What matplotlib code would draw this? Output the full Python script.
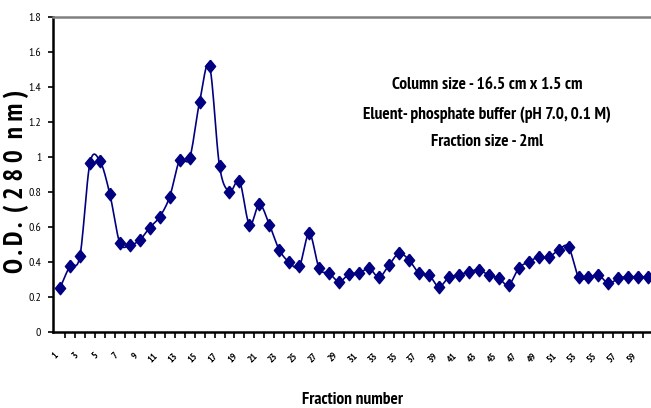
import numpy as np
import matplotlib
matplotlib.use("Agg")
import matplotlib.pyplot as plt

# ---- data ----
fractions = list(range(1, 61))
od_280 = [0.247, 0.374, 0.431, 0.961, 0.976, 0.786, 0.507, 0.494, 0.523, 0.594,
          0.656, 0.770, 0.980, 0.990, 1.313, 1.517, 0.946, 0.800, 0.860, 0.611,
          0.727, 0.611, 0.466, 0.396, 0.372, 0.561, 0.361, 0.333, 0.285, 0.329,
          0.333, 0.361, 0.310, 0.380, 0.447, 0.409, 0.333, 0.323, 0.256, 0.310,
          0.323, 0.342, 0.351, 0.323, 0.304, 0.266, 0.361, 0.399, 0.424, 0.424,
          0.466, 0.484, 0.313, 0.310, 0.323, 0.275, 0.304, 0.313, 0.313, 0.313]
y_ticks = [0, 0.2, 0.4, 0.6, 0.8, 1, 1.2, 1.4, 1.6, 1.8]
y_tick_labels = ["0", "0.2", "0.4", "0.6", "0.8", "1", "1.2", "1.4", "1.6", "1.8"]
x_label_fractions = fractions[::2]
annotation_lines = ["Column size - 16.5 cm x 1.5 cm",
                    "Eluent- phosphate buffer (pH 7.0, 0.1 M)",
                    "Fraction size - 2ml"]

NARROW = ["PT Sans Narrow", "DejaVu Sans"]
navy = "#000080"
diamond = [(0, 1), (0.82, 0), (0, -1), (-0.82, 0), (0, 1)]


def smooth(xs, ys, n=12):
    xs = np.asarray(xs, float)
    ys = np.asarray(ys, float)
    px = np.concatenate([[xs[0]], xs, [xs[-1]]])
    py = np.concatenate([[ys[0]], ys, [ys[-1]]])
    ox, oy = [], []
    t = np.linspace(0, 1, n, endpoint=False)
    for i in range(1, len(px) - 2):
        p0x, p0y = px[i], py[i]
        p3x, p3y = px[i + 1], py[i + 1]
        c1x = p0x + (px[i + 1] - px[i - 1]) / 6
        c1y = p0y + (py[i + 1] - py[i - 1]) / 6
        c2x = p3x - (px[i + 2] - px[i]) / 6
        c2y = p3y - (py[i + 2] - py[i]) / 6
        b0 = (1 - t) ** 3
        b1 = 3 * (1 - t) ** 2 * t
        b2 = 3 * (1 - t) * t ** 2
        b3 = t ** 3
        ox.extend(b0 * p0x + b1 * c1x + b2 * c2x + b3 * p3x)
        oy.extend(b0 * p0y + b1 * c1y + b2 * c2y + b3 * p3y)
    ox.append(xs[-1])
    oy.append(ys[-1])
    return np.array(ox), np.array(oy)


W, H = 651, 408
fig = plt.figure(figsize=(W / 100, H / 100), dpi=100)
left_px, right_px, top_px, bottom_px = 53, 651, 16.7, 331.5
ax = fig.add_axes([left_px / W, 1 - bottom_px / H,
                   (right_px - left_px) / W, (bottom_px - top_px) / H])

sx, sy = smooth(fractions, od_280)
ax.plot(sx, sy, color=navy, lw=1.2, zorder=2, clip_on=False)
ax.plot(fractions, od_280, linestyle="none", marker=diamond, markersize=9,
        color=navy, zorder=3, clip_on=False)

ax.set_xlim(0.30, 60.27)
ax.set_ylim(0, 1.8)

ax.spines["right"].set_visible(False)
ax.spines["top"].set_color("#808080")
ax.spines["top"].set_linewidth(1.8)
ax.spines["left"].set_linewidth(1.8)
ax.spines["bottom"].set_linewidth(1.8)

ax.set_yticks(y_ticks)
ax.set_yticklabels(y_tick_labels, family=NARROW, fontsize=8.5)
ax.tick_params(axis="y", direction="out", length=3.5, width=1.2, pad=5)

bounds = [f + 0.5 for f in fractions[:-1]]
ax.set_xticks(bounds)
ax.set_xticklabels([""] * len(bounds))
ax.tick_params(axis="x", which="major", direction="out", length=4, width=1.2)
ax.set_xticks(x_label_fractions, minor=True)
ax.set_xticklabels([str(v) for v in x_label_fractions], minor=True,
                   family=NARROW, fontsize=7, rotation=45, ha="right",
                   va="top", fontweight="bold")
ax.tick_params(axis="x", which="minor", length=0, pad=14)

fig.text(16 / W, 1 - 181 / H, "O . D .  ( 2 8 0  n m )", rotation=90,
         ha="center", va="center", family=NARROW, fontweight="bold",
         fontsize=19.5)
fig.text(352 / W, 1 - 400 / H, "Fraction number", ha="center", va="center",
         family=NARROW, fontweight="bold", fontsize=12.5)

for yy, line in zip([85, 115, 142], annotation_lines):
    fig.text(487 / W, 1 - yy / H, line, ha="center", va="center",
             family=NARROW, fontweight="bold", fontsize=12.5)

fig.savefig("out.png", dpi=100)
